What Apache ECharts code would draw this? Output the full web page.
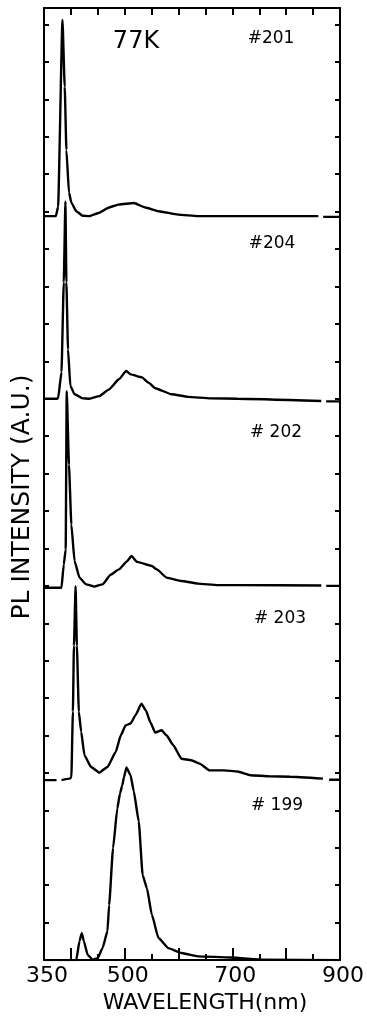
<!DOCTYPE html>
<html>
<head>
<meta charset="utf-8">
<title>PL spectra 77K</title>
<script src="https://cdn.jsdelivr.net/npm/echarts@6/dist/echarts.min.js"></script>
<style>
  html, body { margin: 0; padding: 0; background: #fff; }
  #chart { width: 367px; height: 1019px; }
</style>
</head>
<body>
<div id="chart"></div>
<script>
// sample names, top to bottom
const samples = ['#201', '#204', '# 202', '# 203', '# 199']
// vertical offset of each trace (A.U.)
const offsets = [19.88, 15.0, 9.95, 4.81, 0]

// wavelength (nm) / intensity (A.U.), null = pen lifted
const wl201 = [350, 372, 376.2, 384.3, 388.5, 391.6, 396.4, 400.8, 410, 422, 434.3, 452.7, 471, 489.3, 516.8, 538.3, 562.7, 599.3, 636, 859.7, 864, 868.8, 900]
const pl201 = [0, 0, 0.25, 5.24, 3.46, 1.77, 0.63, 0.36, 0.13, 0.01, 0, 0.09, 0.23, 0.31, 0.35, 0.23, 0.13, 0.04, 0, 0, null, -0.02, -0.02]

const wl204 = [350, 373.3, 376.2, 382.5, 386.7, 389.8, 391.6, 394.6, 399, 406.8, 422, 434.3, 452.7, 471, 489.3, 502.7, 510.8, 532.1, 544.3, 556.6, 587.1, 617.7, 659.8, 709.3, 865.2, 870, 874.3, 900]
const pl204 = [0, 0, 0.01, 0.71, 3.11, 5.27, 3.11, 1.32, 0.34, 0.12, 0.01, 0, 0.07, 0.25, 0.52, 0.74, 0.65, 0.57, 0.43, 0.28, 0.12, 0.05, 0.01, 0, -0.06, null, -0.07, -0.07]

const wl202 = [350, 382.5, 386.7, 390.3, 392.2, 396.4, 400.8, 406.8, 416, 428.3, 443.5, 458.7, 474.1, 489.3, 504.6, 512.6, 522.9, 550.4, 559.6, 577.9, 605.4, 636, 672.7, 709.3, 865.2, 870, 874.3, 900]
const pl202 = [0, 0, 0.62, 1.02, 5.25, 3.29, 1.69, 0.71, 0.27, 0.09, 0.03, 0.09, 0.35, 0.49, 0.71, 0.85, 0.69, 0.58, 0.49, 0.27, 0.18, 0.11, 0.07, 0.07, 0.06, null, 0.05, 0.05]

const wl203 = [350, 373.3, 378, 382.5, 397.7, 400.8, 403.7, 405.6, 408.7, 411.1, 414.7, 419.1, 425.2, 437.5, 452.7, 467.9, 483.3, 492.5, 501.6, 510.8, 519.9, 531, 539.4, 547.5, 556.6, 568.7, 577.9, 590.2, 605.4, 623.7, 639.1, 657.5, 685, 709.3, 733.7, 770.4, 807.1, 868.3, 874, 879.8, 900]
const pl203 = [0, 0, null, 0, 0.04, 0.07, 1.83, 3.59, 5.18, 3.59, 1.83, 1.29, 0.66, 0.35, 0.2, 0.35, 0.75, 1.19, 1.46, 1.51, 1.73, 2.04, 1.86, 1.55, 1.27, 1.33, 1.19, 0.93, 0.57, 0.53, 0.44, 0.26, 0.26, 0.23, 0.13, 0.1, 0.09, 0.04, null, 0.01, 0.01]

const wl199 = [350, 409.9, 416, 420.2, 423.9, 431.2, 440.4, 449.6, 458.7, 467.9, 471, 478.3, 486.2, 491.2, 495.4, 498.5, 503.1, 510.8, 516.8, 526, 533.3, 541.2, 550.4, 562.7, 581, 605.4, 636, 697.1, 758.3, 900]
const pl199 = [0, 0, 0.51, 0.72, 0.51, 0.14, 0.01, 0.05, 0.32, 0.77, 1.47, 2.99, 4.05, 4.45, 4.67, 4.88, 5.15, 4.94, 4.51, 3.71, 2.27, 1.92, 1.21, 0.59, 0.32, 0.19, 0.1, 0.07, 0.01, 0]

const traces = [[wl201, pl201], [wl204, pl204], [wl202, pl202], [wl203, pl203], [wl199, pl199]]

// axis ticks / labels
const xMin = 350
const xMax = 900
const xLabels = [350, 500, 700, 900]
const xLongTicks = [400, 500, 600, 700, 800]
const yMax = 25.44

const font = 'DejaVu Sans'
const black = '#000'

const chart = echarts.init(document.getElementById('chart'))

function lineAxis(extra) {
  return Object.assign({
    type: 'value',
    axisLine: { show: true, onZero: false, lineStyle: { color: black, width: 2 } },
    axisTick: { show: true, inside: true, length: 6, lineStyle: { color: black, width: 2 } },
    axisLabel: { show: false },
    splitLine: { show: false }
  }, extra)
}

const series_array = traces.map(function (t, k) {
  const wl = t[0]
  const pl = t[1]
  return {
    name: samples[k],
    type: 'line',
    xAxisIndex: 0,
    yAxisIndex: 0,
    symbol: 'none',
    connectNulls: false,
    smooth: 0.15,
    smoothMonotone: 'x',
    lineStyle: { color: black, width: 2.4 },
    data: wl.map(function (w, i) {
      return [w, pl[i] == null ? null : +(pl[i] + offsets[k]).toFixed(3)]
    })
  }
})

// sample tags, placed like the original annotations
const tagPos = [[271, 39], [272, 244], [276, 433], [280, 619], [277, 806]]
const graphics = samples.map(function (s, k) {
  return {
    type: 'text',
    x: tagPos[k][0],
    y: tagPos[k][1],
    style: { text: s, fill: black, font: '17px ' + font, align: 'center', verticalAlign: 'middle' }
  }
})
graphics.push({
  type: 'text', x: 136, y: 42,
  style: { text: '77K', fill: black, font: '24px ' + font, align: 'center', verticalAlign: 'middle' }
})

chart.setOption({
  animation: false,
  backgroundColor: '#fff',
  grid: { left: 44, right: 23, top: 8, bottom: 57 },
  xAxis: [
    lineAxis({
      position: 'bottom', min: xMin, max: xMax, interval: 50,
      axisLabel: {
        show: true, customValues: xLabels, color: black, fontSize: 22,
        fontFamily: font, margin: 5, padding: [0, 0, 0, 6]
      },
      name: 'WAVELENGTH(nm)',
      nameLocation: 'middle',
      nameGap: 31,
      nameTextStyle: { color: black, fontSize: 22, fontFamily: font, padding: [0, 0, 0, 26] }
    }),
    lineAxis({
      position: 'bottom', min: xMin, max: xMax,
      axisLine: { show: false },
      axisTick: { show: true, inside: true, length: 12, customValues: xLongTicks, lineStyle: { color: black, width: 2 } }
    }),
    lineAxis({ position: 'top', min: xMin, max: xMax, interval: 50, axisTick: { show: true, inside: true, length: 7, lineStyle: { color: black, width: 2 } } })
  ],
  yAxis: [
    lineAxis({
      position: 'left', min: 0, max: yMax, interval: 1,
      axisTick: { show: true, inside: true, length: 5, lineStyle: { color: black, width: 2 } },
      name: 'PL INTENSITY (A.U.)',
      nameLocation: 'middle',
      nameGap: 9,
      nameTextStyle: { color: black, fontSize: 25, fontFamily: font, padding: [0, 26, 0, 0] }
    }),
    lineAxis({
      position: 'right', min: 0, max: yMax, interval: 1,
      axisTick: { show: true, inside: true, length: 5, lineStyle: { color: black, width: 2 } }
    })
  ],
  series: series_array,
  graphic: graphics
})
</script>
</body>
</html>
